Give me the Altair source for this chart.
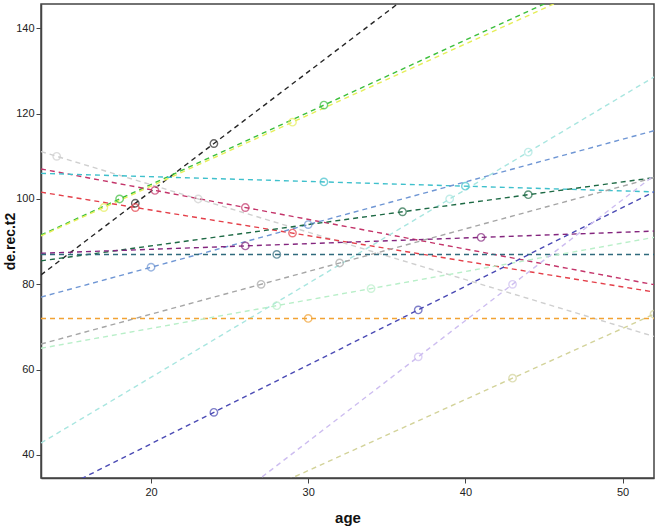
import altair as alt
import numpy as np
import pandas as pd

# One entry per subject: observed ages, scores and the colour of its series
subjects = ["s01", "s02", "s03", "s04", "s05", "s06", "s07", "s08", "s09",
            "s10", "s11", "s12", "s13", "s14", "s15", "s16", "s17", "s18"]
colors = ["#262626", "#3cbf3c", "#e6ee5a", "#cfcfcf", "#c4356a", "#e4404a",
          "#3fc0cc", "#a9e6e0", "#6f96d4", "#1e6a45", "#84267e", "#2f6a7c",
          "#f2a233", "#a6a6a6", "#b9efc9", "#4a4ab4", "#cdbdf0", "#d3d39a"]
ages = [[19, 24], [18, 31], [17, 29], [14, 23], [20.25, 26], [19, 29],
        [31, 40], [39, 44], [20, 30], [36, 44], [26, 41], [28],
        [30], [27, 32], [28, 34], [24, 37], [37, 43], [43, 52]]
scores = [[99, 113], [100, 122], [98, 118], [110, 100], [102, 98], [98, 92],
          [104, 103], [100, 111], [84, 94], [97, 101], [89, 91], [87],
          [72], [80, 85], [75, 79], [50, 74], [63, 80], [58, 73]]

x_min, x_max = 13, 52
y_min, y_max = 34.6, 145.7

points = pd.DataFrame(
    [{"subject": s, "age": a, "score": v}
     for s, aa, vv in zip(subjects, ages, scores) for a, v in zip(aa, vv)]
)

# Per-subject least-squares fit, evaluated across the whole age range
fit_rows = []
for s, aa, vv in zip(subjects, ages, scores):
    if len(aa) > 1:
        slope, intercept = np.polyfit(aa, vv, 1)
    else:
        slope, intercept = 0.0, float(vv[0])
    for a in (x_min, x_max):
        fit_rows.append({"subject": s, "age": a, "score": intercept + slope * a})
fits = pd.DataFrame(fit_rows)

x_scale = alt.Scale(domain=[x_min, x_max], nice=False, zero=False)
y_scale = alt.Scale(domain=[y_min, y_max], nice=False, zero=False)
color_scale = alt.Scale(domain=subjects, range=colors)

x_axis = alt.Axis(
    values=[20, 30, 40, 50], title="age", grid=False,
    titleFont="Liberation Sans", titleFontSize=15, titleFontWeight="bold",
    titleColor="#111111", titleBaseline="alphabetic", titleY=44,
    labelFont="Liberation Sans", labelFontSize=11, labelColor="#222222",
    labelPadding=3, tickSize=5, tickColor="#444444", domainColor="#444444",
    domainWidth=1.5,
)
y_axis = alt.Axis(
    values=[40, 60, 80, 100, 120, 140], title="de.rec.t2", grid=False,
    titleFont="Liberation Sans", titleFontSize=14, titleFontWeight="bold",
    titleColor="#111111", titleX=-24, titleBaseline="bottom",
    labelFont="Liberation Sans", labelFontSize=11, labelColor="#222222",
    labelPadding=2, tickSize=5, tickColor="#444444", domainColor="#444444",
    domainWidth=1.5,
)

lines = alt.Chart(fits).mark_line(
    strokeDash=[5, 4], strokeWidth=1.4, clip=True
).encode(
    x=alt.X("age:Q", scale=x_scale, axis=x_axis),
    y=alt.Y("score:Q", scale=y_scale, axis=y_axis),
    color=alt.Color("subject:N", scale=color_scale, legend=None),
    detail="subject:N",
)

dots = alt.Chart(points).mark_point(
    shape="circle", filled=False, size=55, strokeWidth=1.4, clip=True
).encode(
    x=alt.X("age:Q", scale=x_scale),
    y=alt.Y("score:Q", scale=y_scale),
    color=alt.Color("subject:N", scale=color_scale, legend=None),
)

chart = alt.layer(lines, dots).properties(
    width=613, height=474,
    autosize=alt.AutoSizeParams(type="none"),
    padding={"left": 41, "top": 4, "right": 1, "bottom": 48},
    background="white",
).configure_view(stroke="#444444", strokeWidth=1.5)

chart.save("out.html", embed_options={"renderer": "svg", "actions": False})
